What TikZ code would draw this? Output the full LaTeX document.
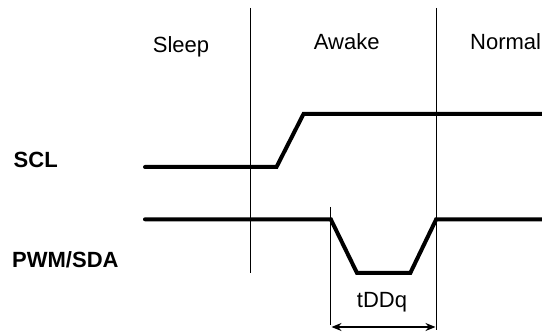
\documentclass[tikz,border=0pt]{standalone}
\usepackage{fontspec}
\setmainfont{Liberation Sans}
\usetikzlibrary{arrows.meta}
\begin{document}
\begin{tikzpicture}[x=1pt,y=-1pt,
  sig/.style={line width=4pt,line join=miter,line cap=round},
  guide/.style={line width=1pt},
  lbl/.style={font=\fontsize{22}{25}\selectfont,inner sep=0pt},
  blbl/.style={font=\fontsize{22}{25}\selectfont\bfseries,inner sep=0pt,anchor=west},
  dim/.style={line width=1.2pt,{Stealth[length=10pt,width=8pt]}-{Stealth[length=10pt,width=8pt]}}]
\useasboundingbox (0,0) rectangle (542,334);
% guides
\coordinate (g1t) at (250.5,8);
\coordinate (g1b) at (250.5,273);
\coordinate (g2t) at (436.2,8);
\coordinate (g2b) at (436.2,330);
\coordinate (g3t) at (330.8,207);
\coordinate (g3b) at (330.8,325);
\draw[guide] (g1t) -- (g1b);
\draw[guide] (g2t) -- (g2b);
\draw[guide] (g3t) -- (g3b);
% SCL
\coordinate (s0) at (145,167);
\coordinate (s1) at (276.5,167);
\coordinate (s2) at (303.5,114);
\coordinate (s3) at (545,114);
\draw[sig] (s0) -- (s1) -- (s2) -- (s3);
% SDA
\coordinate (d0) at (145,219.3);
\coordinate (d1) at (330.8,219.3);
\coordinate (d2) at (357,273);
\coordinate (d3) at (410.3,273);
\coordinate (d4) at (436.2,219.3);
\coordinate (d5) at (545,219.3);
\draw[sig] (d0) -- (d1) -- (d2) -- (d3) -- (d4) -- (d5);
% dimension arrow
\coordinate (a0) at (331.5,327);
\coordinate (a1) at (435.5,327);
\draw[dim] (a0) -- (a1);
% labels
\node[lbl] (sleep) at (181,47) {Sleep};
\node[lbl] (awake) at (346.7,42) {Awake};
\node[lbl,anchor=west] (normal) at (470,42) {Normal};
\node[blbl] (scl) at (13.5,160) {SCL};
\node[blbl] (sda) at (12,260) {PWM/SDA};
\node[lbl] (tddq) at (382,302) {tDDq};
\end{tikzpicture}
\end{document}
